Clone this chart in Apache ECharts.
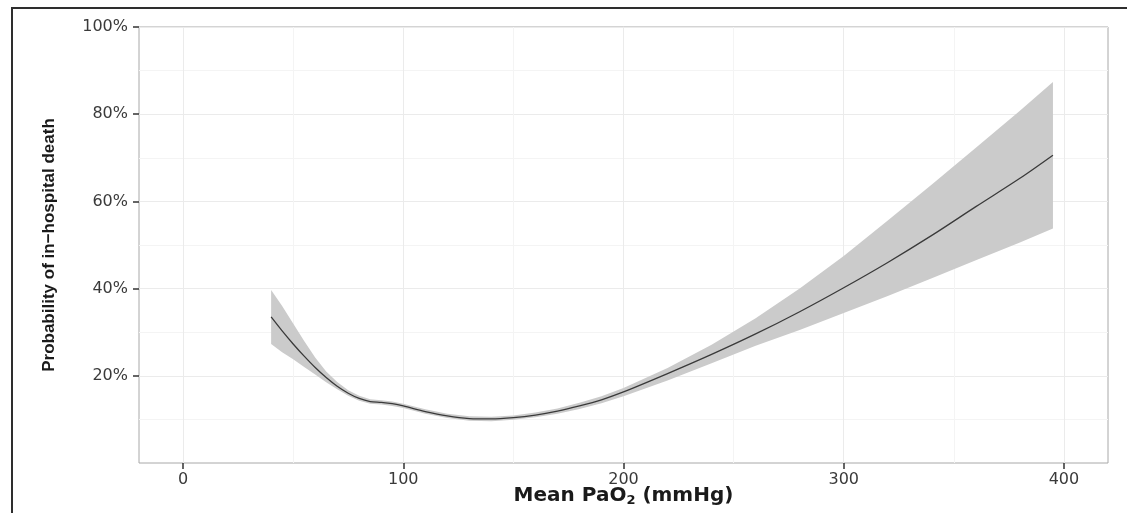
<!DOCTYPE html>
<html>
<head>
<meta charset="utf-8">
<script src="https://cdn.jsdelivr.net/npm/echarts@6/dist/echarts.min.js"></script>
<style>
html,body{margin:0;padding:0;background:#fff;}
#chart{width:1127px;height:513px;}
</style>
</head>
<body>
<div id="chart"></div>
<script>
// PaO2 values (mmHg)
const pao2 = [40,45,50,55,60,65,70,75,80,85,90,95,100,110,120,130,140,150,160,170,180,190,200,220,240,260,280,300,320,340,360,380,395];
// fitted probability of in-hospital death (%)
const fitMean = [33.5,30.3,27.3,24.5,21.9,19.6,17.6,16.0,14.8,14.1,13.9,13.6,13.1,11.8,10.8,10.2,10.1,10.4,11.0,11.9,13.1,14.5,16.3,20.5,24.9,29.6,34.7,40.2,46.0,52.2,58.8,65.3,70.6];
// 95% confidence band, upper and lower (%)
const ciUpper = [39.7,36.0,32.0,28.0,24.2,21.0,18.6,16.7,15.4,14.6,14.4,14.1,13.6,12.3,11.3,10.7,10.6,10.9,11.6,12.5,13.8,15.3,17.2,21.8,27.1,33.2,40.0,47.5,55.6,63.9,72.3,80.8,87.4];
const ciLower = [27.3,25.4,23.8,22.0,20.3,18.5,16.9,15.4,14.3,13.6,13.4,13.1,12.6,11.3,10.3,9.7,9.6,9.9,10.5,11.3,12.4,13.7,15.3,18.9,22.9,26.9,30.5,34.4,38.3,42.4,46.5,50.6,53.8];
// tick labels
const xTicks = [0,100,200,300,400];
const yTicks = [20,40,60,80,100];

const meanData = pao2.map((x,i)=>[x, fitMean[i]]);
const bandData = pao2.map((x,i)=>[x, ciLower[i], ciUpper[i]]);

const T = 'rgba(0,0,0,0)';
const MAJ = '#ebebeb', MIN = '#f4f4f4';
// x split lines every 10 starting at -20: index 2 -> multiples of 100, index 7 -> 50s
const xGridColors = [T,T,MAJ,T,T,T,T,MIN,T,T];

function renderBand(params, api) {
  if (params.dataIndex !== 0) return;
  const up = [], lo = [];
  for (let i = 0; i < bandData.length; i++) {
    up.push(api.coord([bandData[i][0], bandData[i][2]]));
    lo.push(api.coord([bandData[i][0], bandData[i][1]]));
  }
  const pts = up.concat(lo.reverse());
  return {
    type:'polygon',
    shape:{points:pts},
    style:{fill:'#cbcbcb', stroke:'none'},
    silent:true
  };
}

const chart = echarts.init(document.getElementById('chart'), null, {renderer:'canvas'});
chart.setOption({
  animation:false,
  backgroundColor:'#fff',
  grid:{left:139, top:27, right:19, bottom:50, show:true, borderColor:'#a8a8a8', borderWidth:1,
        backgroundColor:'transparent', containLabel:false, outerBoundsMode:'none'},
  xAxis:[{
    type:'value', min:-20, max:420, interval:10, position:'bottom',
    axisLine:{show:false, onZero:false}, axisTick:{show:false}, axisLabel:{show:false},
    splitLine:{show:true, lineStyle:{color:xGridColors, width:1}}
  },{
    type:'value', min:-20, max:420, interval:10, position:'bottom', offset:0,
    axisLine:{show:false, onZero:false},
    axisTick:{show:true, length:6, customValues:xTicks, lineStyle:{color:'#333', width:1.5}},
    axisLabel:{show:true, customValues:xTicks, margin:9, color:'#3a3a3a', fontFamily:'DejaVu Sans', fontSize:16},
    splitLine:{show:false},
    name:'Mean PaO{s|2} (mmHg)', nameLocation:'middle', nameGap:22, nameMoveOverlap:false,
    nameTextStyle:{fontFamily:'DejaVu Sans', fontWeight:'bold', fontSize:20, color:'#1a1a1a',
      rich:{s:{fontFamily:'DejaVu Sans', fontWeight:'bold', fontSize:13, color:'#1a1a1a', padding:[9,0,0,0]}}}
  }],
  yAxis:{
    type:'value', min:0, max:100, interval:20,
    axisLine:{show:false, onZero:false},
    axisTick:{show:true, length:6, customValues:yTicks, lineStyle:{color:'#333', width:1.5}},
    axisLabel:{show:true, customValues:yTicks, margin:11, color:'#3a3a3a', fontFamily:'DejaVu Sans', fontSize:16,
      formatter:v=>v+'%'},
    splitLine:{show:true, lineStyle:{color:MAJ, width:1}},
    minorTick:{show:false, splitNumber:2},
    minorSplitLine:{show:true, lineStyle:{color:MIN, width:1}},
    name:'Probability of in\u2212hospital death', nameLocation:'middle', nameRotate:90, nameGap:81, nameMoveOverlap:false,
    nameTextStyle:{fontFamily:'Liberation Sans', fontWeight:'bold', fontSize:17, color:'#1a1a1a'}
  },
  graphic:[
    {type:'line', shape:{x1:11, y1:8, x2:1127, y2:8}, style:{stroke:'#2e2e2e', lineWidth:2}, silent:true},
    {type:'line', shape:{x1:12, y1:7, x2:12, y2:513}, style:{stroke:'#2e2e2e', lineWidth:2}, silent:true}
  ],
  series:[
    {type:'custom', name:'band', data:bandData, xAxisIndex:0, renderItem:renderBand, silent:true, z:2,
     encode:{x:0, y:[1,2]}, clip:true},
    {type:'line', name:'fit', data:meanData, xAxisIndex:0, symbol:'none',
     smooth:0.3, lineStyle:{color:'#3a3a3a', width:1.3}, z:5}
  ]
});
</script>
</body>
</html>
